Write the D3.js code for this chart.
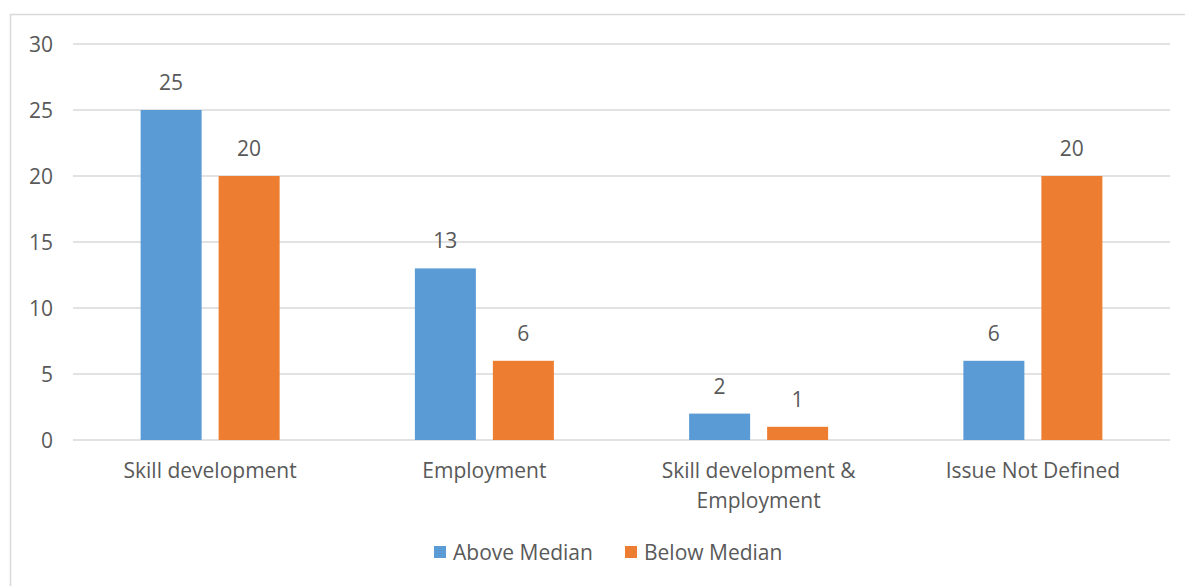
<!DOCTYPE html>
<html><head><meta charset="utf-8">
<script src="https://cdn.jsdelivr.net/npm/d3@7"></script>
<style>body{margin:0;background:#fff}svg{display:block}text{font-family:"Open Sans",Lato,sans-serif;fill:#595959}</style>
</head><body><svg id="c" width="1185" height="586"></svg>
<script>
const categories = [["Skill development"],["Employment"],["Skill development &","Employment"],["Issue Not Defined"]];
const seriesNames = ["Above Median","Below Median"];
const aboveMedian = [25,13,2,6];
const belowMedian = [20,6,1,20];
const yTicks = [0,5,10,15,20,25,30];
const colors = ["#5b9bd5","#ed7d31"];

(function(){
const svg = d3.select("#c");
const fs = 21;
svg.append("rect").attr("x",10.5).attr("y",14.5).attr("width",1185).attr("height",600)
  .attr("fill","none").attr("stroke","#d9d9d9").attr("stroke-width",1.5);

const pl=73,pr=1170,pt=44,pb=440;
const idx = categories.map((d,i)=>i);
const x = d3.scaleBand().domain(idx).range([pl,pr]).paddingInner(0).paddingOuter(0);
const y = d3.scaleLinear().domain([0,30]).range([pb,pt]);
const bw = 61, gap = 17;

const gy = svg.append("g");
gy.selectAll("line").data(yTicks).join("line")
  .attr("x1",pl).attr("x2",pr).attr("y1",d=>y(d)).attr("y2",d=>y(d))
  .attr("stroke","#d9d9d9").attr("stroke-width",1.3);
gy.selectAll("text").data(yTicks).join("text")
  .attr("x",53).attr("y",d=>y(d)).attr("dy","0.36em").attr("text-anchor","end")
  .attr("font-size",fs).text(d=>d);

const series=[aboveMedian,belowMedian];
series.forEach((vals,s)=>{
  const off = s===0 ? -(bw+gap)/2 : (bw+gap)/2;
  const g = svg.append("g");
  g.selectAll("rect").data(vals).join("rect")
    .attr("x",(d,i)=>x(i)+x.bandwidth()/2+off-bw/2).attr("width",bw)
    .attr("y",d=>y(d)).attr("height",d=>y(0)-y(d)).attr("fill",colors[s]);
  g.selectAll("text").data(vals).join("text")
    .attr("x",(d,i)=>x(i)+x.bandwidth()/2+off).attr("y",d=>y(d)-20)
    .attr("text-anchor","middle").attr("font-size",fs).text(d=>d);
});

const gx = svg.append("g");
categories.forEach((lines,i)=>{
  const t = gx.append("text").attr("text-anchor","middle").attr("font-size",fs);
  lines.forEach((l,j)=>t.append("tspan").attr("x",x(i)+x.bandwidth()/2).attr("y",478+j*30).text(l));
});

const legendX=[434,625];
seriesNames.forEach((n,s)=>{
  svg.append("rect").attr("x",legendX[s]).attr("y",546).attr("width",12).attr("height",12).attr("fill",colors[s]);
  svg.append("text").attr("x",legendX[s]+19).attr("y",560).attr("font-size",fs).text(n);
});
})();
</script></body></html>
